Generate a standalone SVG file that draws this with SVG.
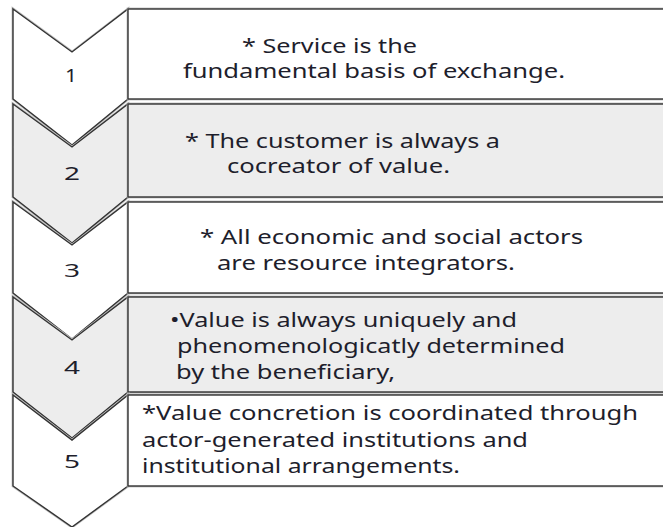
<svg xmlns="http://www.w3.org/2000/svg" width="663" height="527" viewBox="0 0 663 527">
<style>
.bg{fill:#ffffff}
.w{fill:#ffffff}
.g{fill:#ededed}
.halo{fill:none;stroke:#bdbdbd;stroke-width:2.8;stroke-linejoin:miter}
.edge{stroke:#333333;stroke-width:1.4;stroke-linejoin:miter}
.t{font-family:"Noto Sans","Open Sans","DejaVu Sans",sans-serif;font-size:19px;fill:#1e1e2c}
.n{font-family:"Noto Sans","Open Sans","DejaVu Sans",sans-serif;font-size:18px;fill:#1e1e2c}
</style>
<rect class="bg" x="0" y="0" width="663" height="527"/>
<g id="connectors"/>
<g id="step1">
<polygon class="halo" points="13,9 72,52 128,9 128,99 72,145 13,99"/>
<polygon class="w edge" points="13,9 72,52 128,9 128,99 72,145 13,99"/>
<rect class="halo" x="128" y="9" width="545" height="90"/>
<rect class="w edge" x="128" y="9" width="545" height="90"/>
<text class="n" x="65" y="82" textLength="12" lengthAdjust="spacingAndGlyphs">1</text>
<text class="t" x="242" y="53" textLength="175" lengthAdjust="spacingAndGlyphs">* Service is the</text>
<text class="t" x="183" y="78" textLength="382" lengthAdjust="spacingAndGlyphs">fundamental basis of exchange.</text>
</g>
<g id="step2">
<polygon class="halo" points="13,104 72,147 128,104 128,197 72,243 13,197"/>
<polygon class="g edge" points="13,104 72,147 128,104 128,197 72,243 13,197"/>
<rect class="halo" x="128" y="104" width="545" height="93"/>
<rect class="g edge" x="128" y="104" width="545" height="93"/>
<text class="n" x="64" y="180" textLength="16" lengthAdjust="spacingAndGlyphs">2</text>
<text class="t" x="185" y="148" textLength="315" lengthAdjust="spacingAndGlyphs">* The customer is always a</text>
<text class="t" x="227" y="173" textLength="223" lengthAdjust="spacingAndGlyphs">cocreator of value.</text>
</g>
<g id="step3">
<polygon class="halo" points="13,202 72,245 128,202 128,293 72,339 13,293"/>
<polygon class="w edge" points="13,202 72,245 128,202 128,293 72,339 13,293"/>
<rect class="halo" x="128" y="202" width="545" height="91"/>
<rect class="w edge" x="128" y="202" width="545" height="91"/>
<text class="n" x="64" y="277" textLength="16" lengthAdjust="spacingAndGlyphs">3</text>
<text class="t" x="200" y="244" textLength="383" lengthAdjust="spacingAndGlyphs">* All economic and social actors</text>
<text class="t" x="217" y="270" textLength="298" lengthAdjust="spacingAndGlyphs">are resource integrators.</text>
</g>
<g id="step4">
<polygon class="halo" points="13,297 72,340 128,297 128,392 72,438 13,392"/>
<polygon class="g edge" points="13,297 72,340 128,297 128,392 72,438 13,392"/>
<rect class="halo" x="128" y="297" width="545" height="95"/>
<rect class="g edge" x="128" y="297" width="545" height="95"/>
<text class="n" x="64" y="374" textLength="16" lengthAdjust="spacingAndGlyphs">4</text>
<text class="t" x="170" y="327" textLength="347" lengthAdjust="spacingAndGlyphs">•Value is always uniquely and</text>
<text class="t" x="177" y="353" textLength="388" lengthAdjust="spacingAndGlyphs">phenomenologicatly determined</text>
<text class="t" x="176" y="379" textLength="219" lengthAdjust="spacingAndGlyphs">by the beneficiary,</text>
</g>
<g id="step5">
<polygon class="halo" points="13,395 72,440 128,395 128,486 72,527 13,486"/>
<polygon class="w edge" points="13,395 72,440 128,395 128,486 72,527 13,486"/>
<rect class="halo" x="128" y="395" width="545" height="91"/>
<rect class="w edge" x="128" y="395" width="545" height="91"/>
<text class="n" x="64" y="468" textLength="16" lengthAdjust="spacingAndGlyphs">5</text>
<text class="t" x="142" y="420" textLength="496" lengthAdjust="spacingAndGlyphs">*Value concretion is coordinated through</text>
<text class="t" x="142" y="447" textLength="386" lengthAdjust="spacingAndGlyphs">actor-generated institutions and</text>
<text class="t" x="142" y="473" textLength="318" lengthAdjust="spacingAndGlyphs">institutional arrangements.</text>
</g>
</svg>
